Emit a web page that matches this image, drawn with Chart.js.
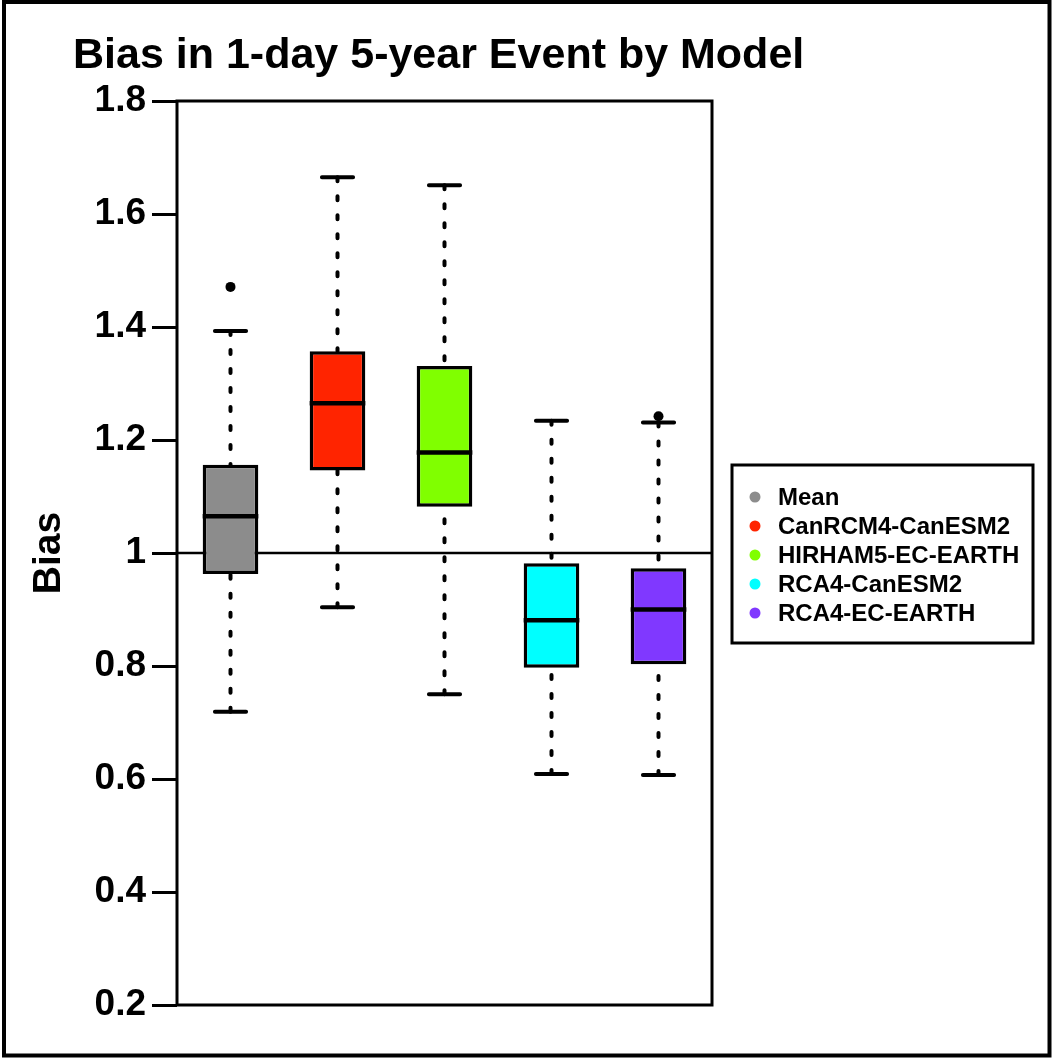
<!DOCTYPE html>
<html>
<head>
<meta charset="utf-8">
<title>Bias in 1-day 5-year Event by Model</title>
<script src="https://cdn.jsdelivr.net/npm/chart.js"></script>
<style>
  body { margin: 0; background: #fff; }
  #wrap { width: 1060px; height: 1058px; }
</style>
</head>
<body>
<div id="wrap"><canvas id="boxChart" width="1060" height="1058"></canvas></div>
<script>
'use strict';

// data
var categories = ['Mean', 'CanRCM4-CanESM2', 'HIRHAM5-EC-EARTH', 'RCA4-CanESM2', 'RCA4-EC-EARTH'];
var whiskerLow = [0.719, 0.904, 0.750, 0.609, 0.607];
var q1 = [0.963, 1.146, 1.082, 0.797, 0.803];
var median = [1.065, 1.265, 1.178, 0.881, 0.900];
var q3 = [1.156, 1.357, 1.331, 0.982, 0.973];
var whiskerHigh = [1.393, 1.665, 1.651, 1.234, 1.231];
var outliers = [[1.471], [], [], [], [1.242]];
var boxColors = ['#8C8C8C', '#FF2400', '#80FF00', '#00FFFF', '#8038FF'];
var tickLabels = ['0.2', '0.4', '0.6', '0.8', '1', '1.2', '1.4', '1.6', '1.8'];
var refValue = 1;

var FONT = '"Liberation Sans", Arial, sans-serif';
Chart.defaults.font.family = FONT;
Chart.defaults.color = '#000';

var boxRanges = [];
for (var i = 0; i < categories.length; i++) {
  boxRanges.push([q1[i], q3[i]]);
}

// whiskers, medians, outliers, frame, legend and texts
var boxExtras = {
  id: 'boxExtras',
  beforeDatasetsDraw: function(chart) {
    var ctx = chart.ctx;
    var area = chart.chartArea;
    var y = chart.scales.y;
    var meta = chart.getDatasetMeta(0);

    ctx.save();
    // reference line
    ctx.strokeStyle = '#000';
    ctx.lineWidth = 2.5;
    ctx.beginPath();
    ctx.moveTo(area.left, y.getPixelForValue(refValue));
    ctx.lineTo(area.right, y.getPixelForValue(refValue));
    ctx.stroke();

    for (var i = 0; i < categories.length; i++) {
      var bar = meta.data[i];
      var cx = bar.x;
      var capHalf = bar.width * 0.28;

      // dashed whiskers, drawn from the ends toward the box
      ctx.lineWidth = 4;
      ctx.lineCap = 'round';
      ctx.setLineDash([4, 15]);
      ctx.beginPath();
      ctx.moveTo(cx, y.getPixelForValue(whiskerHigh[i]));
      ctx.lineTo(cx, y.getPixelForValue(q3[i]));
      ctx.moveTo(cx, y.getPixelForValue(whiskerLow[i]));
      ctx.lineTo(cx, y.getPixelForValue(q1[i]));
      ctx.stroke();

      // caps
      ctx.setLineDash([]);
      ctx.lineCap = 'round';
      ctx.lineWidth = 4;
      ctx.beginPath();
      ctx.moveTo(cx - capHalf, y.getPixelForValue(whiskerHigh[i]));
      ctx.lineTo(cx + capHalf, y.getPixelForValue(whiskerHigh[i]));
      ctx.moveTo(cx - capHalf, y.getPixelForValue(whiskerLow[i]));
      ctx.lineTo(cx + capHalf, y.getPixelForValue(whiskerLow[i]));
      ctx.stroke();

      // outliers
      ctx.fillStyle = '#000';
      for (var k = 0; k < outliers[i].length; k++) {
        ctx.beginPath();
        ctx.arc(cx, y.getPixelForValue(outliers[i][k]), 5, 0, Math.PI * 2);
        ctx.fill();
      }
    }
    ctx.restore();
  },
  afterDatasetsDraw: function(chart) {
    var ctx = chart.ctx;
    var area = chart.chartArea;
    var y = chart.scales.y;
    var meta = chart.getDatasetMeta(0);

    ctx.save();
    // medians
    ctx.strokeStyle = '#000';
    ctx.lineWidth = 4.5;
    for (var i = 0; i < categories.length; i++) {
      var bar = meta.data[i];
      var my = y.getPixelForValue(median[i]);
      ctx.beginPath();
      ctx.moveTo(bar.x - bar.width / 2, my);
      ctx.lineTo(bar.x + bar.width / 2, my);
      ctx.stroke();
    }

    // plot frame
    ctx.lineWidth = 3;
    ctx.strokeRect(area.left, area.top, area.right - area.left, area.bottom - area.top);
    ctx.restore();
  },
  afterDraw: function(chart) {
    var ctx = chart.ctx;
    var area = chart.chartArea;
    ctx.save();
    ctx.fillStyle = '#000';
    ctx.strokeStyle = '#000';

    // title
    ctx.font = 'bold 43px ' + FONT;
    ctx.textAlign = 'left';
    ctx.textBaseline = 'alphabetic';
    ctx.fillText('Bias in 1-day 5-year Event by Model', 73, 68);

    // y axis title
    ctx.save();
    ctx.translate(60, (area.top + area.bottom) / 2);
    ctx.rotate(-Math.PI / 2);
    ctx.font = 'bold 39px ' + FONT;
    ctx.textAlign = 'center';
    ctx.fillText('Bias', 0, 0);
    ctx.restore();

    // legend
    var lx = 732, ly = 465, lw = 301, lh = 178;
    ctx.lineWidth = 3;
    ctx.strokeRect(lx, ly, lw, lh);
    ctx.font = 'bold 24px ' + FONT;
    ctx.textBaseline = 'middle';
    ctx.textAlign = 'left';
    for (var i = 0; i < categories.length; i++) {
      var ry = 497 + i * 29;
      ctx.fillStyle = boxColors[i];
      ctx.beginPath();
      ctx.arc(755, ry, 5.5, 0, Math.PI * 2);
      ctx.fill();
      ctx.fillStyle = '#000';
      ctx.fillText(categories[i], 778, ry + 1);
    }

    // outer border
    ctx.lineWidth = 4;
    ctx.strokeRect(4, 2, 1045.5, 1053.5);
    ctx.restore();
  }
};

var boxChart = new Chart(document.getElementById('boxChart').getContext('2d'), {
  type: 'bar',
  data: {
    labels: categories,
    datasets: [{
      label: 'IQR',
      data: boxRanges,
      backgroundColor: boxColors,
      borderColor: '#000',
      borderWidth: 3.5,
      borderSkipped: false,
      categoryPercentage: 1,
      barPercentage: 0.52
    }]
  },
  options: {
    responsive: false,
    animation: false,
    layout: { padding: { top: 101, right: 348, bottom: 53, left: 0 } },
    plugins: {
      legend: { display: false },
      tooltip: { enabled: false },
      title: { display: false }
    },
    scales: {
      x: { display: false },
      y: {
        min: 0.2,
        max: 1.8,
        afterFit: function(scale) { scale.width = 177; },
        border: { display: false },
        grid: {
          drawOnChartArea: false,
          drawTicks: true,
          tickLength: 25,
          tickWidth: 3,
          tickColor: '#000'
        },
        ticks: {
          stepSize: 0.2,
          padding: 6,
          color: '#000',
          font: { size: 37, weight: 'bold' },
          callback: function(value, index) { return tickLabels[index]; }
        }
      }
    }
  },
  plugins: [boxExtras]
});
</script>
</body>
</html>
